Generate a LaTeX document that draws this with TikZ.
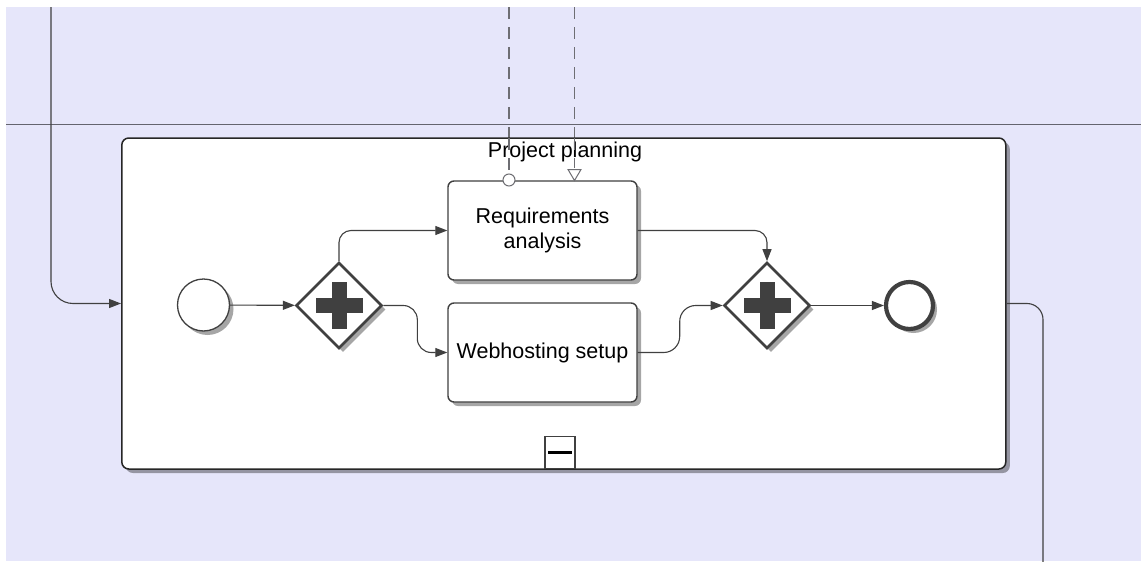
\documentclass[tikz,border=0pt]{standalone}
\usepackage{fontspec}
\setmainfont{Liberation Sans}
\usetikzlibrary{arrows.meta,shapes.geometric,shadows,calc}
\definecolor{lanebg}{RGB}{230,230,250}
\definecolor{ink}{RGB}{64,64,64}
\definecolor{laneline}{RGB}{100,100,110}
\definecolor{msg}{RGB}{110,110,115}
\tikzset{
  shad/.style={drop shadow={shadow xshift=4pt,shadow yshift=-4pt,opacity=0.35,fill=black}},
  taskbox/.style={draw=ink,line width=1.4pt,fill=white,rounded corners=6pt,minimum width=189pt,minimum height=99pt,inner sep=0pt,align=center,font=\fontsize{21.5}{25}\selectfont,shad},
  subbox/.style={draw=black!85,line width=1.5pt,fill=white,rounded corners=7pt,minimum width=884pt,minimum height=331pt,inner sep=0pt,shad},
  gatebox/.style={diamond,aspect=1,draw=ink,line width=2.6pt,fill=white,minimum width=86pt,minimum height=86pt,inner sep=0pt,shad},
  startev/.style={circle,draw=ink,line width=1.3pt,fill=white,minimum size=52pt,inner sep=0pt,shad},
  endev/.style={circle,draw=ink,line width=4.2pt,fill=white,minimum size=47pt,inner sep=0pt,shad},
  flow/.style={draw=ink,line width=1.1pt,-{Triangle[length=12pt,width=9pt]}},
  flowline/.style={draw=ink,line width=1.1pt},
  msgflow/.style={draw=msg,line width=1.2pt,dash pattern=on 12pt off 8pt},
  lbl/.style={font=\fontsize{21.5}{25}\selectfont,inner sep=0pt}
}
\begin{document}
\begin{tikzpicture}[x=1pt,y=-1pt]
\useasboundingbox (0,0) rectangle (1141,562);
\fill[white] (0,0) rectangle (1141,562);
\fill[lanebg] (6,7) rectangle (1141,561);

% coordinates for free ends
\coordinate (intop) at (51,7);
\coordinate (outbot) at (1043,562);
\coordinate (m1top) at (509,7);
\coordinate (m2top) at (574.5,7);

% lane divider
\draw[laneline,line width=1.2pt] (6,124.3) -- (1141,124.3);

% message flows (upper parts)
\draw[msgflow] (m1top) -- (509,138);
\draw[msgflow] (m2top) -- (574.5,138);

% sub-process
\node[subbox] (sub) at (563.8,303.5) {};
\node[lbl] (subl) at (565,152) {Project planning};

% message flows inside
\draw[msgflow] (509,138) -- (509,174);
\draw[msgflow] (574.5,138) -- (574.5,168);

% tasks
\node[taskbox] (req) at (542.5,230.5) {Requirements\\analysis};
\node[taskbox] (web) at (542.5,352.5) {Webhosting setup};

% message flow end markers
\node[circle,draw=msg,line width=1pt,fill=white,minimum size=12pt,inner sep=0pt] (mstart) at (509,180) {};
\coordinate (mend) at (574.5,181);
\draw[msg,line width=1pt,fill=white] ($(mend)+(0,-0.5)$) -- ++(-6.5,-11) -- ++(13,0) -- cycle;

% events and gateways
\node[startev] (start) at (203.5,305) {};
\node[gatebox] (g1) at (339,305.5) {};
\node[gatebox] (g2) at (767,305.5) {};
\node[endev] (end) at (909.5,305.5) {};

% plus signs
\foreach \g in {g1,g2}{
  \fill[ink] ($(\g)+(-23.5,-7.5)$) rectangle ($(\g)+(23.5,7.5)$);
  \fill[ink] ($(\g)+(-7.5,-23.5)$) rectangle ($(\g)+(7.5,23.5)$);
}

% collapse marker
\node[draw=ink,line width=1.3pt,fill=white,minimum width=30pt,minimum height=32pt,inner sep=0pt,anchor=south] (mark) at (560,469) {};
\draw[black,line width=3pt] ($(mark.center)+(-12,0)$) -- ($(mark.center)+(12,0)$);

% sequence flows
\draw[flow] (start) -- (g1);
\draw[flow,rounded corners=12pt] (g1.north) |- (req.west);
\draw[flow,rounded corners=14pt] (g1.east) -- ++(34,0) |- (web.west);
\draw[flow,rounded corners=12pt] (req.east) -| (g2.north);
\draw[flow,rounded corners=16pt] (web.east) -- ++(42,0) |- (g2.west);
\draw[flow] (g2) -- (end);

% incoming / outgoing flows of the sub-process
\draw[flow,rounded corners=22pt] (intop) |- (sub.west);
\draw[flowline,rounded corners=16pt] (sub.east) -| (outbot);
\end{tikzpicture}
\end{document}
